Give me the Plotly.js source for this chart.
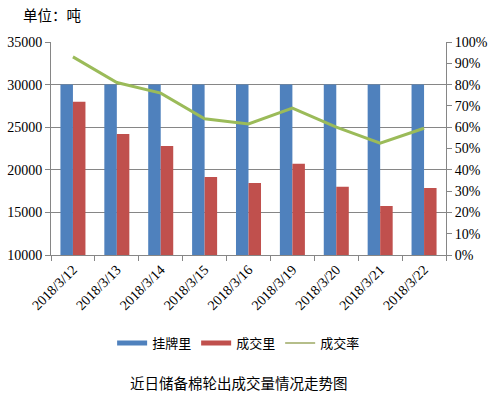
<!DOCTYPE html>
<html><head><meta charset="utf-8">
<script src="https://cdn.plot.ly/plotly-3.0.1.min.js"></script>
<style>html,body{margin:0;padding:0;background:#fff}#c{width:499px;height:398px}</style>
</head><body><div id="c"></div>
<script>
const categories = ["2018/3/12","2018/3/13","2018/3/14","2018/3/15","2018/3/16","2018/3/19","2018/3/20","2018/3/21","2018/3/22"];
const listed = [30000,30000,30000,30000,30000,30000,30000,30000,30000];
const traded = [28000,24200,22800,19150,18450,20700,18000,15750,17850];
const rate = [0.93,0.81,0.76,0.64,0.615,0.69,0.60,0.525,0.595];
const leftTicks = [10000,15000,20000,25000,30000,35000];
const rightTicks = [0,0.1,0.2,0.3,0.4,0.5,0.6,0.7,0.8,0.9,1.0];
const seriesNames = ['挂牌里','成交里','成交率'];
const seriesColors = ['#4F81BD','#C0504D','#9BBB59'];

const serif = '"Liberation Serif","Times New Roman",serif';
const cjk = '"Noto Sans CJK SC",sans-serif';

const data = [
  {type:'bar', name:seriesNames[0], x:categories, y:listed, marker:{color:seriesColors[0]}, yaxis:'y', showlegend:false},
  {type:'bar', name:seriesNames[1], x:categories, y:traded, marker:{color:seriesColors[1]}, yaxis:'y', showlegend:false},
  {type:'scatter', mode:'lines', name:seriesNames[2], x:categories, y:rate, line:{color:seriesColors[2], width:3}, yaxis:'y2', showlegend:false},
  // legend-only entries (wide swatches like the reference)
  {type:'scatter', mode:'lines', name:seriesNames[0], x:[categories[0]], y:[null], line:{color:seriesColors[0], width:5}},
  {type:'scatter', mode:'lines', name:seriesNames[1], x:[categories[0]], y:[null], line:{color:seriesColors[1], width:5}},
  {type:'scatter', mode:'lines', name:seriesNames[2], x:[categories[0]], y:[null], line:{color:'#B5BE8A', width:2}, yaxis:'y2'}
];
const layout = {
  width:499, height:398,
  margin:{l:51, r:53, t:42, b:143},
  paper_bgcolor:'#fff', plot_bgcolor:'#fff',
  barmode:'group', bargap:0.43, bargroupgap:0,
  showlegend:true,
  legend:{orientation:'h', x:0.475, xanchor:'center', y:-0.413, yanchor:'middle',
          font:{family:cjk, size:13, color:'#000'}, traceorder:'normal', tracegroupgap:0},
  xaxis:{type:'category', tickson:'boundaries', ticks:'outside', ticklen:5, tickcolor:'#868686',
         showline:true, linecolor:'#868686', tickangle:-45, showgrid:false,
         tickfont:{family:serif, size:14, color:'#000'}},
  yaxis:{range:[10000,35000], tickvals:leftTicks, ticktext:leftTicks.map(String),
         showgrid:true, gridcolor:'#868686', gridwidth:1, showline:true, linecolor:'#868686',
         ticks:'outside', ticklen:5, tickcolor:'#868686', zeroline:false,
         tickfont:{family:serif, size:14, color:'#000'}},
  yaxis2:{range:[0,1], overlaying:'y', side:'right', tickvals:rightTicks,
          ticktext:rightTicks.map(v=>Math.round(v*100)+'%'),
          showgrid:false, showline:true, linecolor:'#868686', ticks:'outside', ticklen:5,
          tickcolor:'#868686', zeroline:false, tickfont:{family:serif, size:14, color:'#000'}},
  annotations:[
    {text:'单位：吨', xref:'paper', yref:'paper', x:-0.075, y:1.127, xanchor:'left', yanchor:'middle',
     showarrow:false, font:{family:cjk, size:14.5, color:'#000'}},
    {text:'近日储备棉轮出成交量情况走势图', xref:'paper', yref:'paper', x:0.475, y:-0.60,
     xanchor:'center', yanchor:'middle', showarrow:false, font:{family:cjk, size:14.5, color:'#000'}}
  ]
};
Plotly.newPlot('c', data, layout, {displayModeBar:false, staticPlot:true});
</script></body></html>
